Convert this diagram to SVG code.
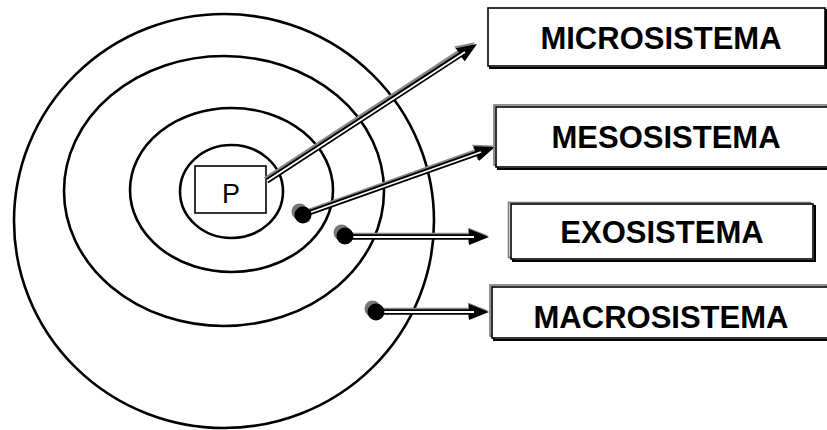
<svg xmlns="http://www.w3.org/2000/svg" width="827" height="430" viewBox="0 0 827 430">
<style>
.ring{fill:none;stroke:#000;stroke-width:2.6}
.box{fill:#fff;stroke:#000;stroke-width:1.6}
.sh-g{fill:none;stroke:#777;stroke-width:1.6}
.sh-b{fill:none;stroke:#000;stroke-width:2}
.lbl{font-family:"Liberation Sans",Arial,sans-serif;font-weight:bold;font-size:31px;fill:#000;text-anchor:middle}
.p{font-family:"Liberation Sans",Arial,sans-serif;font-size:27px;fill:#000;text-anchor:middle}
.c-sh{fill:none;stroke:#888;stroke-width:5.5}
.c-bk{fill:none;stroke:#000;stroke-width:5.5}
.c-wh{fill:none;stroke:#fff;stroke-width:1.8}
.dot-sh{fill:#777}
.dot{fill:#000}
</style>
<defs>
<marker id="ah" viewBox="0 0 20 16" refX="2" refY="8" markerWidth="20" markerHeight="16" markerUnits="userSpaceOnUse" orient="auto">
<path d="M0,0 L20,8 L0,16 z" fill="#000"/>
</marker>
<marker id="ahs" viewBox="0 0 20 16" refX="2" refY="8" markerWidth="20" markerHeight="16" markerUnits="userSpaceOnUse" orient="auto">
<path d="M0,0 L20,8 L0,16 z" fill="#888"/>
</marker>
</defs>
<rect width="827" height="430" fill="#fff"/>
<g id="rings">
<ellipse id="macro-ring" class="ring" cx="224" cy="221" rx="210" ry="207"/>
<ellipse id="exo-ring" class="ring" cx="224" cy="191" rx="160" ry="135"/>
<ellipse id="meso-ring" class="ring" cx="231.5" cy="190" rx="101.5" ry="82"/>
<ellipse id="micro-ring" class="ring" cx="231.5" cy="191.5" rx="51.5" ry="46.5"/>
</g>
<g id="node-p">
<rect class="box" x="195" y="166" width="71" height="47"/>
<text class="p" x="231" y="203">P</text>
</g>
<g id="connectors">
<g id="c-micro">
<path class="c-sh" d="M265.5,179.5 L460,52" marker-end="url(#ahs)"/>
<path class="c-bk" d="M267,181 L461.9,53.8" marker-end="url(#ah)"/>
<path class="c-wh" d="M267,181 L465,52"/>
</g>
<g id="c-meso">
<circle class="dot-sh" cx="299.5" cy="211.5" r="8"/>
<path class="c-sh" d="M303,213.5 L476.5,151.5" marker-end="url(#ahs)"/>
<path class="c-bk" d="M303,215 L478,153" marker-end="url(#ah)"/>
<path class="c-wh" d="M303,215 L481,152"/>
<circle class="dot" cx="303" cy="215" r="8.5"/>
</g>
<g id="c-exo">
<circle class="dot-sh" cx="341.5" cy="232.5" r="8"/>
<path class="c-sh" d="M345,235.5 L470,235.5" marker-end="url(#ahs)"/>
<path class="c-bk" d="M345,237 L471,237" marker-end="url(#ah)"/>
<path class="c-wh" d="M345,237 L474,237"/>
<circle class="dot" cx="345" cy="236" r="8.5"/>
</g>
<g id="c-macro">
<circle class="dot-sh" cx="372.5" cy="308.5" r="8"/>
<path class="c-sh" d="M376,310.5 L470,310.5" marker-end="url(#ahs)"/>
<path class="c-bk" d="M376,312 L471,312" marker-end="url(#ah)"/>
<path class="c-wh" d="M376,312 L474,312"/>
<circle class="dot" cx="376" cy="312" r="8.5"/>
</g>
</g>
<g id="node-micro">
<rect class="sh-b" x="490" y="10" width="336" height="58"/>
<rect class="box" x="488" y="8" width="337" height="58"/>
<text class="lbl" x="661" y="49">MICROSISTEMA</text>
</g>
<g id="node-meso">
<rect class="sh-g" x="494" y="105" width="333" height="60"/>
<rect class="sh-b" x="498" y="109" width="330" height="60"/>
<rect class="box" x="496" y="107" width="332" height="60"/>
<text class="lbl" x="666" y="148">MESOSISTEMA</text>
</g>
<g id="node-exo">
<rect class="sh-g" x="508.5" y="202.5" width="302" height="55"/>
<rect class="sh-b" x="513" y="206" width="302" height="55"/>
<rect class="box" x="511" y="204" width="302" height="55"/>
<text class="lbl" x="662" y="243">EXOSISTEMA</text>
</g>
<g id="node-macro">
<rect class="sh-g" x="490" y="285" width="337" height="51"/>
<rect class="sh-b" x="494" y="289" width="334" height="51"/>
<rect class="box" x="492" y="287" width="336" height="51"/>
<text class="lbl" x="661" y="328">MACROSISTEMA</text>
</g>
</svg>
